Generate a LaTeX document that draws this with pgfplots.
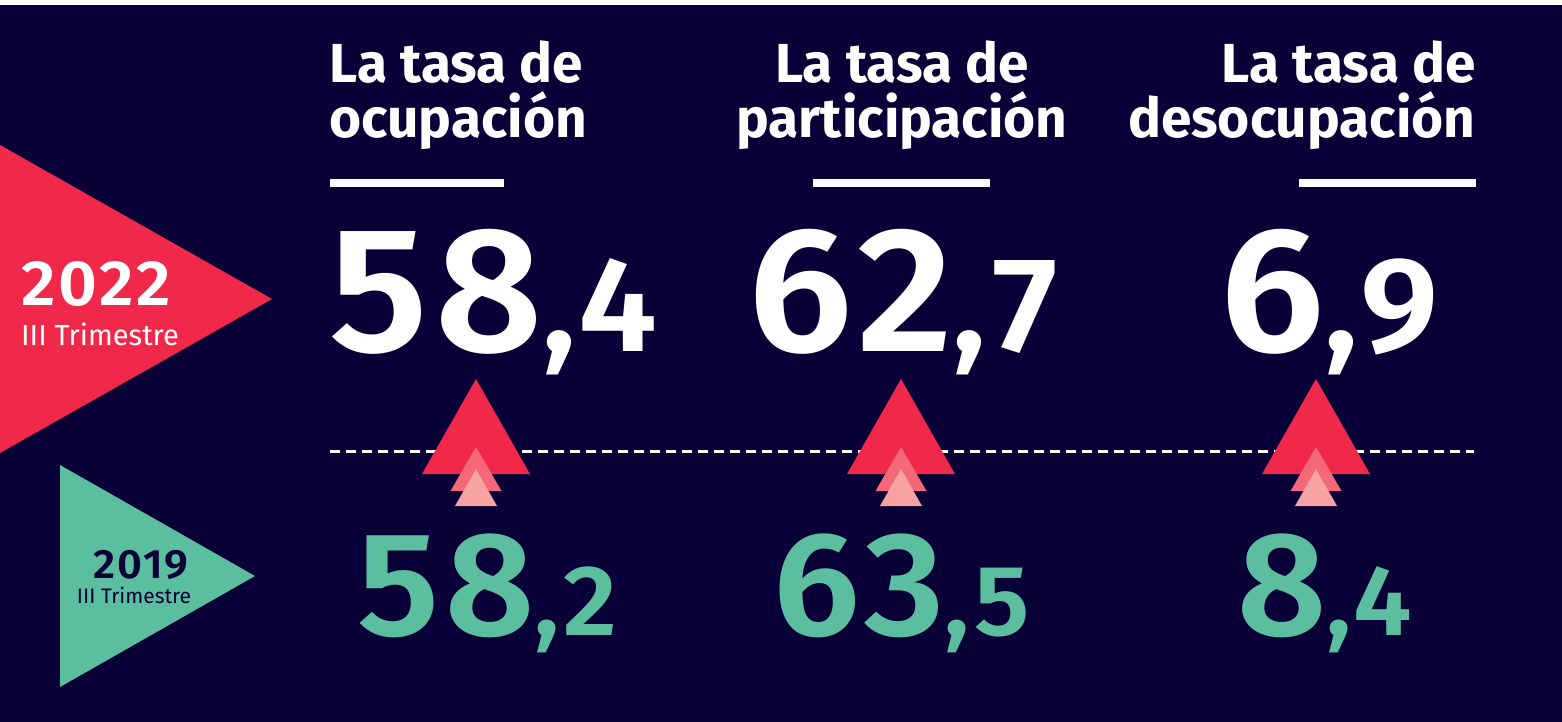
\documentclass[border=0pt]{standalone}
\usepackage{fontspec}
\setmainfont{Fira Sans}
\newfontfamily\numfont{Fira Sans SemiBold}[FakeStretch=1.05, LetterSpace=4]
\usepackage{pgfplots}
\pgfplotsset{compat=1.18}
\definecolor{navy}{HTML}{0A0038}
\definecolor{rojo}{HTML}{F0294A}
\definecolor{rosa}{HTML}{F4687A}
\definecolor{rosaclaro}{HTML}{F7A3A3}
\definecolor{verde}{HTML}{5BBE9F}

% big value: integer part + decimal part
\newcommand{\valor}[4]{{\numfont\fontsize{#3}{#3}\selectfont #1}{\numfont\fontsize{#4}{#4}\selectfont ,#2}}
\newcommand{\fs}[1]{\fontsize{#1}{#1}\selectfont}

\begin{document}
\begin{tikzpicture}
\begin{axis}[width=1562pt, height=722pt, scale only axis,
  xmin=0, xmax=1562, ymin=0, ymax=722, y dir=reverse, hide axis,
  every node/.style={inner sep=0pt, outer sep=0pt},
]
% background
\addplot[fill=white, draw=none] coordinates {(0,0) (1562,0) (1562,722) (0,722)} -- cycle;
\addplot[fill=navy, draw=none] coordinates {(0,5) (1562,5) (1562,722) (0,722)} -- cycle;

% year triangles
\addplot[fill=rojo, draw=none] coordinates {(0,145) (272,299) (0,453)} -- cycle;
\addplot[fill=verde, draw=none] coordinates {(60,465) (255,576) (60,687)} -- cycle;

% header underlines
\addplot[white, line width=8pt] coordinates {(330,183) (504,183)};
\addplot[white, line width=8pt] coordinates {(813,183) (990,183)};
\addplot[white, line width=8pt] coordinates {(1299,183) (1476,183)};

% dashed divider
\addplot[white, line width=3pt, dash pattern=on 10pt off 6pt] coordinates {(330,451) (1474,451)};

% up arrows
\addplot[fill=rojo, draw=none] coordinates {(422,474) (476,379) (530,474)} -- cycle;
\addplot[fill=rosa, draw=none] coordinates {(450.5,491) (476,447) (501.5,491)} -- cycle;
\addplot[fill=rosaclaro, draw=none] coordinates {(455,506) (476,469) (497,506)} -- cycle;

\addplot[fill=rojo, draw=none] coordinates {(847,474) (901,379) (955,474)} -- cycle;
\addplot[fill=rosa, draw=none] coordinates {(875.5,491) (901,447) (926.5,491)} -- cycle;
\addplot[fill=rosaclaro, draw=none] coordinates {(880,506) (901,469) (922,506)} -- cycle;

\addplot[fill=rojo, draw=none] coordinates {(1262,474) (1316,379) (1370,474)} -- cycle;
\addplot[fill=rosa, draw=none] coordinates {(1290.5,491) (1316,447) (1341.5,491)} -- cycle;
\addplot[fill=rosaclaro, draw=none] coordinates {(1295,506) (1316,469) (1337,506)} -- cycle;

% year labels
\node[anchor=base, text=white, font=\numfont\fs{64}] at (axis cs:96,305) {2022};
\node[anchor=base, text=white, font=\fs{29}] at (axis cs:100,345) {III Trimestre};
\node[anchor=base, text=navy, font=\numfont\fs{41}] at (axis cs:141,578) {2019};
\node[anchor=base, text=navy, font=\fs{21}] at (axis cs:134,603) {III Trimestre};

% headers
\node[anchor=base west, text=white, font=\bfseries\fs{55}] at (axis cs:326,83) {La tasa de};
\node[anchor=base west, text=white, font=\bfseries\fs{55}] at (axis cs:326,138) {ocupación};
\node[anchor=base, text=white, font=\bfseries\fs{55}] at (axis cs:902,83) {La tasa de};
\node[anchor=base, text=white, font=\bfseries\fs{55}] at (axis cs:902,138) {participación};
\node[anchor=base east, text=white, font=\bfseries\fs{55}] at (axis cs:1479,83) {La tasa de};
\node[anchor=base east, text=white, font=\bfseries\fs{55}] at (axis cs:1479,138) {desocupación};

% 2022 values
\node[anchor=base west, text=white] at (axis cs:326,351) {\valor{58}{4}{178}{135}};
\node[anchor=base west, text=white] at (axis cs:745,351) {\valor{62}{7}{178}{135}};
\node[anchor=base west, text=white] at (axis cs:1217,351) {\valor{6}{9}{178}{135}};

% 2019 values
\node[anchor=base west, text=verde] at (axis cs:354,635) {\valor{58}{2}{148}{100}};
\node[anchor=base west, text=verde] at (axis cs:770,635) {\valor{63}{5}{148}{100}};
\node[anchor=base west, text=verde] at (axis cs:1234,635) {\valor{8}{4}{148}{100}};
\end{axis}
\end{tikzpicture}
\end{document}
